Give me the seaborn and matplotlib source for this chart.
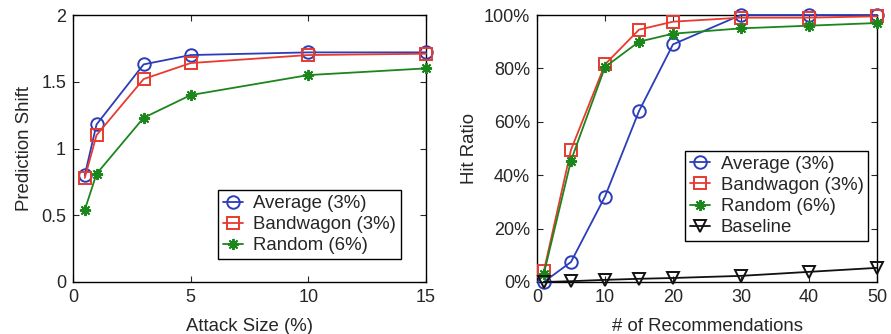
import pandas as pd
import matplotlib
matplotlib.use('Agg')
import matplotlib.pyplot as plt
import seaborn as sns
from matplotlib.ticker import FuncFormatter

# Left panel: prediction shift vs attack size
attack_size = [0.5, 1, 3, 5, 10, 15]
shift_average = [0.80, 1.18, 1.63, 1.70, 1.72, 1.72]
shift_bandwagon = [0.78, 1.10, 1.52, 1.64, 1.70, 1.71]
shift_random = [0.54, 0.81, 1.23, 1.40, 1.55, 1.60]

# Right panel: hit ratio vs number of recommendations
n_recs = [1, 5, 10, 15, 20, 30, 40, 50]
hit_average = [0, 7.5, 32, 64, 89, 100, 100, 100]
hit_bandwagon = [4, 49.5, 81.5, 94.5, 97.5, 99, 99, 99.5]
hit_random = [3, 45.5, 80.5, 90, 93, 95, 96, 97]
hit_baseline = [0, 0.3, 0.8, 1.2, 1.5, 2.3, 3.8, 5.3]

labels = ['Average (3%)', 'Bandwagon (3%)', 'Random (6%)', 'Baseline']
colors = ['#2b3db8', '#e83a30', '#1b861b', '#111111']
markers = ['o', 's', (8, 2, 0), 'v']

sns.set_style('ticks')
plt.rcParams['font.family'] = ['Liberation Sans', 'DejaVu Sans']
plt.rcParams['xtick.direction'] = 'in'
plt.rcParams['ytick.direction'] = 'in'

fig = plt.figure(figsize=(8.91, 3.34), dpi=100)
ax1 = fig.add_axes([73 / 891, 52 / 334, 353 / 891, 267 / 334])
ax2 = fig.add_axes([537 / 891, 52 / 334, 340 / 891, 267 / 334])


def draw(ax, x, series):
    for i, y in enumerate(series):
        df = pd.DataFrame({'x': x, 'y': y})
        open_marker = i != 2
        sns.lineplot(data=df, x='x', y='y', ax=ax, color=colors[i], marker=markers[i],
                     markersize=9 if open_marker else 8, linewidth=1.3,
                     markerfacecolor='none' if open_marker else colors[i],
                     markeredgecolor=colors[i], markeredgewidth=1.4,
                     label=labels[i], clip_on=False, zorder=3)


draw(ax1, attack_size, [shift_average, shift_bandwagon, shift_random])
ax1.set_xlim(0, 15)
ax1.set_ylim(0, 2)
ax1.set_xticks([0, 5, 10, 15])
ax1.set_yticks([0, 0.5, 1, 1.5, 2])
ax1.set_yticklabels(['0', '0.5', '1', '1.5', '2'])
ax1.set_xlabel('Attack Size (%)', fontsize=13.4, labelpad=9)
ax1.set_ylabel('Prediction Shift', fontsize=13.4, labelpad=6)

draw(ax2, n_recs, [hit_average, hit_bandwagon, hit_random, hit_baseline])
ax2.set_xlim(0, 50)
ax2.set_ylim(0, 100)
ax2.set_xticks([0, 10, 20, 30, 40, 50])
ax2.set_yticks([0, 20, 40, 60, 80, 100])
ax2.yaxis.set_major_formatter(FuncFormatter(lambda v, p: '%d%%' % v))
ax2.set_xlabel('# of Recommendations', fontsize=13.4, labelpad=9)
ax2.set_ylabel('Hit Ratio', fontsize=13.4, labelpad=4)

for ax in (ax1, ax2):
    ax.tick_params(labelsize=13, top=True, right=True, length=4, width=0.8, pad=5)
    for s in ax.spines.values():
        s.set_visible(True)
        s.set_linewidth(1.0)
        s.set_color('black')

leg_kw = dict(loc='lower right', fontsize=13.4, fancybox=False, edgecolor='black',
              framealpha=1, handlelength=1.1, borderpad=0.25, labelspacing=0.22,
              handletextpad=0.55, borderaxespad=0)
leg1 = ax1.legend(bbox_to_anchor=(0.929, 0.086), **leg_kw)
leg2 = ax2.legend(bbox_to_anchor=(0.974, 0.154), **leg_kw)
for leg in (leg1, leg2):
    leg.get_frame().set_linewidth(1.0)

fig.savefig('out.png', dpi=100)
